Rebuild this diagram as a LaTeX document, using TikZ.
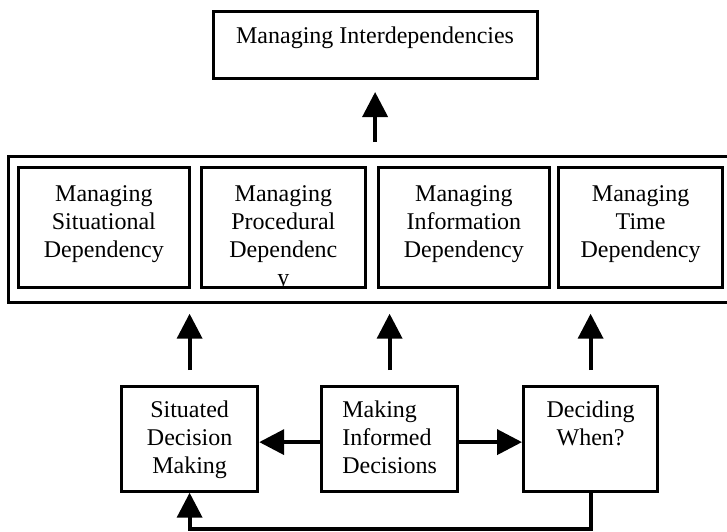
\documentclass[tikz,border=0pt]{standalone}
\usepackage{fontspec}
\setmainfont{Liberation Serif}
\usetikzlibrary{arrows.meta}
\tikzset{
  box/.style={draw, line width=3.2pt, inner sep=0pt, anchor=north west,
    font=\fontsize{24}{28}\selectfont, align=center},
  topbox/.style={box, minimum width=324pt, text height=32.5pt, text depth=34.8pt},
  depbox/.style={box, text height=90pt, text depth=30.5pt},
  decbox/.style={box, minimum width=136pt, text height=87pt, text depth=18pt},
  frame/.style={draw, line width=3.2pt, inner sep=0pt, anchor=north west,
    minimum width=740pt, minimum height=145.5pt},
  arr/.style={line width=3.8pt, -{Triangle[length=25pt,width=25pt]}}
}
\begin{document}
\begin{tikzpicture}[x=1pt,y=-1pt]
  \useasboundingbox (0,0) rectangle (727,531);
  \node[topbox] (top) at (211.5,9.5) {Managing Interdependencies};
  \node[frame] (frame) at (6.8,155) {};
  \node[depbox, minimum width=170.5pt] (sitdep) at (17,165.5)
    {Managing\\Situational\\Dependency};
  \node[depbox, minimum width=163.5pt,
    path picture={\node[anchor=base, inner sep=0pt, font=\fontsize{24}{28}\selectfont]
      at ([yshift=2.5pt]path picture bounding box.south) {y};}] (procdep) at (200,165.5)
    {Managing\\Procedural\\Dependenc};
  \node[depbox, minimum width=170.5pt] (infodep) at (377,165.5)
    {Managing\\Information\\Dependency};
  \node[depbox, minimum width=164pt] (timedep) at (557,165.5)
    {Managing\\Time\\Dependency};
  \node[decbox] (sit) at (120,384.5) {Situated\\Decision\\Making};
  \node[decbox, align=left] (mid) at (320,384.5) {Making\\Informed\\Decisions};
  \node[decbox, minimum width=134pt, text height=59pt, text depth=46pt] (dec)
    at (522,384.5) {Deciding\\When?};
  \begin{scope}[arr]
    \draw[shorten <=13pt, shorten >=12pt] (frame.north -| top.south) to (top.south);
    \draw[shorten <=14.5pt, shorten >=10pt] (sit.north) to (sit.north |- frame.south);
    \draw[shorten <=14.5pt, shorten >=10pt] (mid.north) to (mid.north |- frame.south);
    \draw[shorten <=14.5pt, shorten >=10pt] (dec.north) to (dec.north |- frame.south);
    \draw ([yshift=-3.5pt]mid.west) to ([yshift=-3.5pt]sit.east);
    \draw ([yshift=-3.5pt]mid.east) to ([yshift=-3.5pt]dec.west);
    \draw (dec.south) -- ++(0,36) -| (sit.south);
  \end{scope}
\end{tikzpicture}
\end{document}
